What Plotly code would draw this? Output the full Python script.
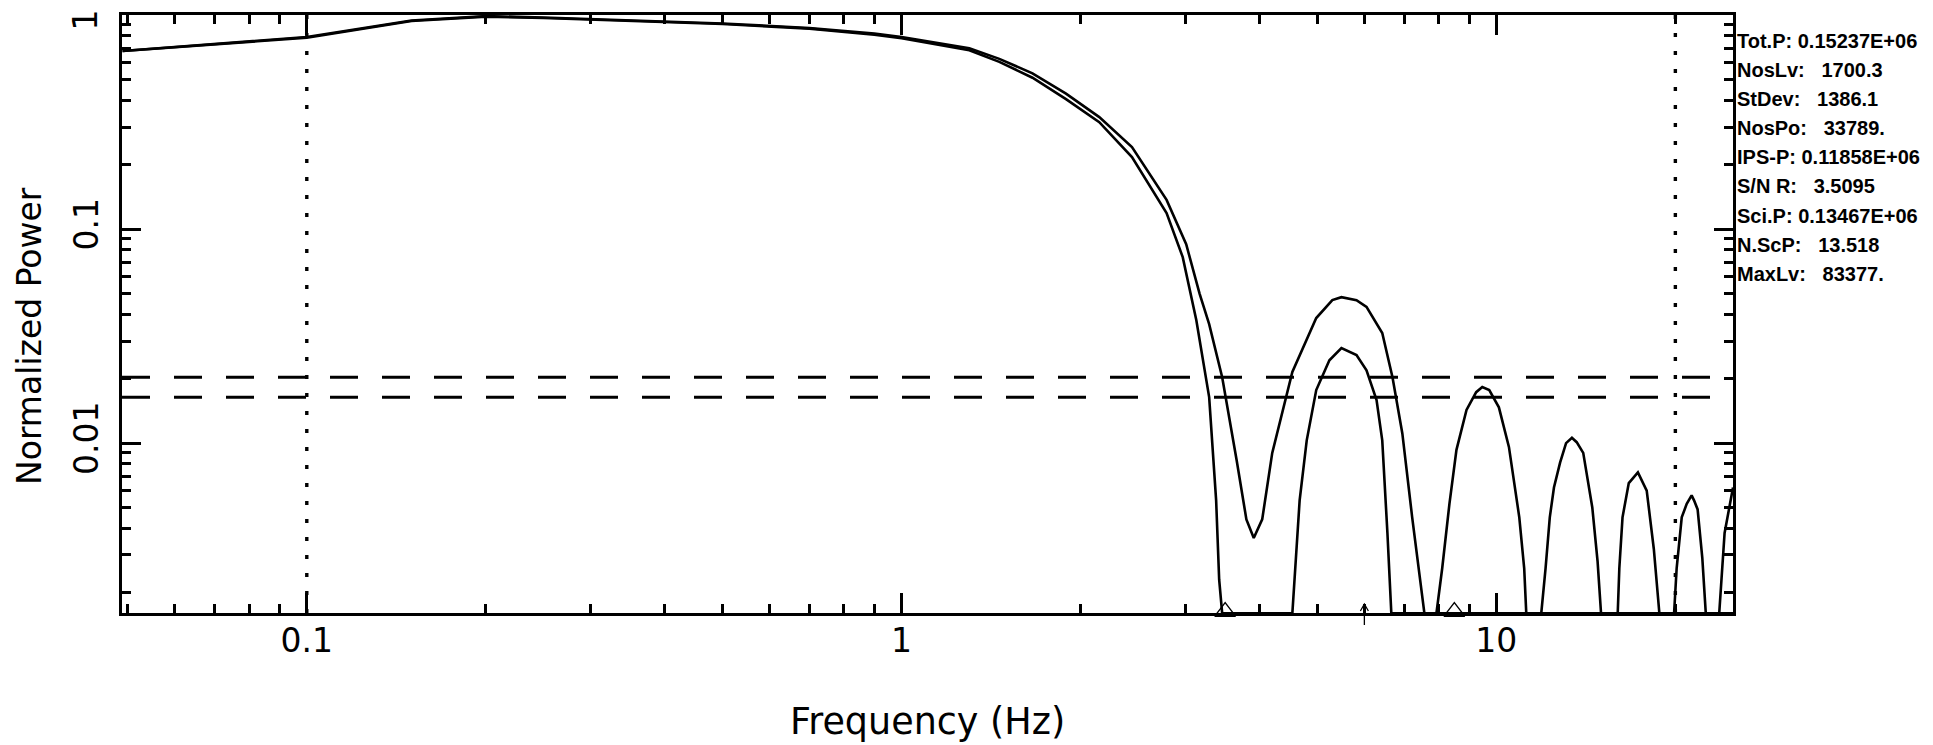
import numpy as np
import plotly.graph_objects as go

# power spectrum (two curves, upper and lower)
freq_a = [0.049, 0.1, 0.15, 0.2, 0.25, 0.3, 0.4, 0.5, 0.7, 0.9,
          1.0, 1.3, 1.46, 1.66, 1.89, 2.15, 2.44, 2.79, 3.01, 3.17,
          3.29, 3.46, 3.66, 3.80, 3.91, 4.04, 4.20, 4.54, 4.98, 5.30,
          5.49, 5.82, 6.05, 6.43, 6.69, 6.95, 7.22, 7.45, 7.57, 25.0]
power_a = [0.68, 0.79, 0.945, 0.99, 0.975, 0.96, 0.935, 0.915, 0.87, 0.82,
           0.79, 0.70, 0.625, 0.535, 0.43, 0.334, 0.242, 0.137, 0.085, 0.05,
           0.036, 0.0203, 0.0083, 0.0044, 0.0036, 0.0044, 0.009, 0.0215, 0.0384, 0.0466,
           0.0481, 0.0466, 0.0433, 0.0327, 0.0203, 0.0111, 0.0045, 0.0022, 0.0016, 0.0016]

freq_b = [0.049, 0.1, 0.15, 0.2, 0.25, 0.3, 0.4, 0.5, 0.7, 0.9,
          1.0, 1.3, 1.46, 1.66, 1.89, 2.15, 2.44, 2.79, 2.97, 3.13,
          3.29, 3.38, 3.42, 3.46, 4.54, 4.67, 4.80, 4.98, 5.24, 5.49,
          5.82, 6.05, 6.29, 6.43, 6.56, 6.66, 7.93, 8.11, 8.34, 8.57,
          8.91, 9.25, 9.47, 9.73, 10.1, 10.5, 10.93, 11.14, 11.23, 11.9,
          12.1, 12.3, 12.5, 12.8, 13.1, 13.4, 13.65, 14.0, 14.5, 14.8,
          15.0, 16.0, 16.1, 16.3, 16.7, 17.3, 17.9, 18.4, 18.8, 19.9,
          20.1, 20.5, 20.9, 21.3, 21.5, 21.8, 22.2, 22.5, 23.7, 24.2,
          25.0]
power_b = [0.68, 0.785, 0.94, 0.985, 0.97, 0.955, 0.93, 0.91, 0.865, 0.81,
           0.78, 0.685, 0.605, 0.51, 0.405, 0.316, 0.217, 0.119, 0.074, 0.0376,
           0.0164, 0.0054, 0.0023, 0.0016, 0.0016, 0.0054, 0.0103, 0.0177, 0.0244, 0.0278,
           0.0258, 0.0219, 0.0159, 0.0103, 0.0038, 0.0016, 0.0016, 0.0026, 0.0052, 0.0093,
           0.0143, 0.0173, 0.0183, 0.0177, 0.0147, 0.0096, 0.0045, 0.0026, 0.0016, 0.0016,
           0.0026, 0.0045, 0.0062, 0.0081, 0.010, 0.0106, 0.0101, 0.009, 0.005, 0.0028,
           0.0016, 0.0016, 0.0026, 0.0045, 0.0065, 0.0073, 0.006, 0.0032, 0.0016, 0.0016,
           0.0026, 0.0045, 0.0052, 0.0057, 0.0054, 0.0049, 0.0029, 0.0016, 0.0016, 0.0038,
           0.0062]

noise_levels = [0.0203, 0.0164]      # dashed horizontal lines
band_limits = [0.1, 20.0]            # dotted vertical lines
triangle_freqs = [3.5, 8.5]
triangle_power = [0.00163, 0.00163]
arrow_freq = 6.0

x_ticks = [0.1, 1, 10]
x_ticktext = ["0.1", "1", "10"]
x_minor = [0.05, 0.06, 0.07, 0.08, 0.09, 0.2, 0.3, 0.4, 0.5, 0.6, 0.7, 0.8, 0.9,
           2, 3, 4, 5, 6, 7, 8, 9, 20]
y_ticks = [0.01, 0.1, 1]
# the top label "1" sits at the frame corner, it is placed separately below
y_ticktext = ["0.01", "0.1", ""]
y_top_label = "1"
y_minor = [0.002, 0.003, 0.004, 0.005, 0.006, 0.007, 0.008, 0.009,
           0.02, 0.03, 0.04, 0.05, 0.06, 0.07, 0.08, 0.09,
           0.2, 0.3, 0.4, 0.5, 0.6, 0.7, 0.8, 0.9]

stat_names = ["Tot.P:", "NosLv:", "StDev:", "NosPo:", "IPS-P:", "S/N R:", "Sci.P:", "N.ScP:", "MaxLv:"]
stat_values = ["0.15237E+06", "  1700.3", "  1386.1", "  33789.", "0.11858E+06",
               "  3.5095", "0.13467E+06", "  13.518", "  83377."]

# the page body adds an 8px offset, so the figure is sized to fit inside it
W, H = 1925, 737
L, R, T, B = 114, 200, 7, 132
plot_w = W - L - R
plot_h = H - T - B
PX0, PY0 = L + 8, T + 8   # frame corner on screen
FONT = "DejaVu Sans"

fig = go.Figure()
for fx, py in [(freq_a, power_a), (freq_b, power_b)]:
    fig.add_trace(go.Scatter(x=fx, y=py, mode="lines",
                             line=dict(color="black", width=2.6),
                             hoverinfo="skip"))

fig.add_trace(go.Scatter(x=triangle_freqs, y=triangle_power, mode="markers",
                         marker=dict(symbol="triangle-up-open", size=18,
                                     color="black", line=dict(width=1.4, color="black")),
                         cliponaxis=False, hoverinfo="skip"))

for lvl in noise_levels:
    fig.add_hline(y=lvl, line=dict(color="black", width=3, dash="28px,24px"))
for f in band_limits:
    fig.add_vline(x=f, line=dict(color="black", width=3.4, dash="4px,14px"))

# small arrow poking up through the bottom axis
fig.add_shape(type="path", xref="x", yref="paper", xsizemode="pixel", ysizemode="pixel",
              xanchor=arrow_freq, yanchor=0,
              path="M0,-12 L0,9 M-4,2 L0,9 L4,2",
              line=dict(color="black", width=1.3))

# top y tick label, kept inside the page
fig.add_annotation(xref="paper", yref="paper", x=(85 - PX0) / plot_w,
                   y=1 + (PY0 - 9) / plot_h, text=y_top_label, textangle=-90,
                   showarrow=False, xanchor="center", yanchor="top", borderpad=0,
                   font=dict(family=FONT, size=33, color="black"))

# y axis title
fig.add_annotation(xref="paper", yref="paper", x=(29 - PX0) / plot_w,
                   y=1 - (336 - PY0) / plot_h, text="Normalized Power", textangle=-90,
                   showarrow=False, xanchor="center", yanchor="middle",
                   font=dict(family=FONT, size=33, color="black"))

# statistics block to the right of the frame
for i, (name, val) in enumerate(zip(stat_names, stat_values)):
    ypix = 41 + i * 29.1
    fig.add_annotation(xref="paper", yref="paper", x=(1735 - PX0) / plot_w,
                       y=1 - (ypix - PY0) / plot_h,
                       text=name + " " + val.replace(" ", "\u00a0"),
                       showarrow=False, xanchor="left", yanchor="middle",
                       font=dict(family="Liberation Sans", size=20, color="black",
                                 weight="bold"))

axis_common = dict(type="log", ticks="inside", tickwidth=3, tickcolor="black",
                   showline=True, linewidth=3, linecolor="black", mirror="allticks",
                   showgrid=False, zeroline=False, automargin=False,
                   tickfont=dict(family=FONT, size=33, color="black"))

fig.update_layout(
    width=W, height=H,
    margin=dict(l=L, r=R, t=T, b=B),
    plot_bgcolor="white", paper_bgcolor="white",
    showlegend=False,
    xaxis=dict(axis_common, range=[np.log10(0.0489), np.log10(25)],
               tickmode="array", tickvals=x_ticks, ticktext=x_ticktext, ticklen=20,
               ticklabelstandoff=-4,
               minor=dict(tickmode="array", tickvals=x_minor, ticks="inside",
                          ticklen=9, tickwidth=3, tickcolor="black", showgrid=False),
               title=dict(text="Frequency (Hz)", standoff=50,
                          font=dict(family=FONT, size=36.5, color="black"))),
    yaxis=dict(axis_common, range=[-2.794, 0.0008],
               tickmode="array", tickvals=y_ticks, ticktext=y_ticktext, ticklen=19,
               tickangle=-90, ticklabelstandoff=8,
               minor=dict(tickmode="array", tickvals=y_minor, ticks="inside",
                          ticklen=9, tickwidth=3, tickcolor="black", showgrid=False)),
)

fig.write_html("out.html")
